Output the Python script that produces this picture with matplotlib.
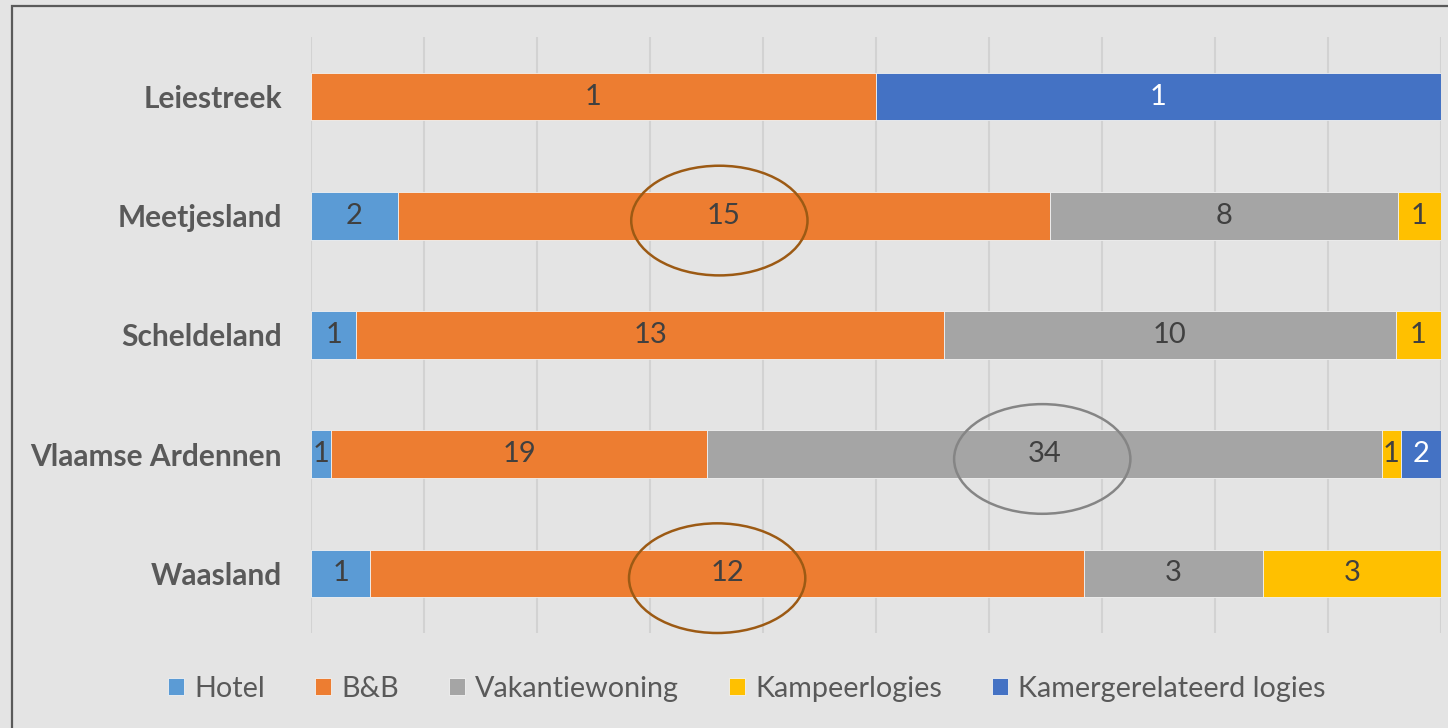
import matplotlib
matplotlib.use("Agg")
import matplotlib.pyplot as plt
from matplotlib.patches import Ellipse, Rectangle
import numpy as np

regions = ["Leiestreek", "Meetjesland", "Scheldeland", "Vlaamse Ardennen", "Waasland"]
series = ["Hotel", "B&B", "Vakantiewoning", "Kampeerlogies", "Kamergerelateerd logies"]
hotel = [0, 2, 1, 1, 1]
bnb = [1, 15, 13, 19, 12]
vakantie = [0, 8, 10, 34, 3]
kampeer = [0, 1, 1, 1, 3]
kamer = [1, 0, 0, 2, 0]
colors = ["#5B9BD5", "#ED7D31", "#A5A5A5", "#FFC000", "#4472C4"]
label_colors = ["#404040", "#404040", "#404040", "#404040", "#FFFFFF"]

# highlighted cells: (region index, series index, ellipse colour, x shift in axis fraction)
highlights = [(1, 1, "#9C5A14", -0.004), (3, 2, "#858585", -0.002), (4, 1, "#9C5A14", -0.009)]

plt.rcParams['font.family'] = ['Lato', 'DejaVu Sans']
BG = "#E4E4E4"
fig = plt.figure(figsize=(14.48, 7.28), dpi=100, facecolor=BG)
W, H = 1448, 728
ax = fig.add_axes([311 / W, 1 - 633 / H, 1130 / W, 596 / H])
ax.set_facecolor(BG)

data = np.array([hotel, bnb, vakantie, kampeer, kamer], dtype=float)
totals = data.sum(axis=0)
frac = data / totals
y = np.arange(len(regions))
left = np.zeros(len(regions))
bar_h = 0.40
for s in range(len(series)):
    ax.barh(y, frac[s], left=left, height=bar_h, color=colors[s], label=series[s],
            edgecolor="#F2F2F2", linewidth=0.6, zorder=3)
    for i in range(len(regions)):
        if data[s, i] > 0:
            ax.text(left[i] + frac[s, i] / 2, y[i], f"{int(data[s, i])}",
                    ha="center", va="center", fontsize=21, color=label_colors[s], zorder=5)
    left += frac[s]

for (ri, si, col, dx) in highlights:
    start = frac[:si, ri].sum()
    cx = start + frac[si, ri] / 2 + dx
    e = Ellipse((cx, ri + 0.04), width=0.156, height=0.92, fill=False, edgecolor=col,
                linewidth=1.8, zorder=6, clip_on=False)
    ax.add_patch(e)

ax.set_xlim(0, 1)
ax.set_ylim(4.5, -0.5)
ax.set_xticks(np.linspace(0, 1, 11))
ax.set_xticklabels([])
ax.tick_params(axis='x', length=0)
ax.tick_params(axis='y', length=0, pad=21)
ax.set_yticks(y)
ax.set_yticklabels(regions, fontsize=21.5, fontweight='bold', color="#595959")
ax.grid(axis='x', color="#D2D2D2", linewidth=1.5, zorder=0)
for sp in ax.spines.values():
    sp.set_visible(False)

handles, labels = ax.get_legend_handles_labels()
leg = fig.legend(handles, labels, loc='center', bbox_to_anchor=(747 / W, 1 - 689 / H),
                 ncol=5, frameon=False, fontsize=20.7, handlelength=0.55, handleheight=0.55,
                 handletextpad=0.35, columnspacing=1.75, labelcolor="#595959")

# outer chart border (left and top visible)
fig.add_artist(Rectangle((11.5 / W, -0.1), 1.2, 1 - 6.5 / H + 0.1, transform=fig.transFigure,
                         fill=False, edgecolor="#5A5A5A", linewidth=1.6))

fig.savefig("out.png", dpi=100, facecolor=BG)
